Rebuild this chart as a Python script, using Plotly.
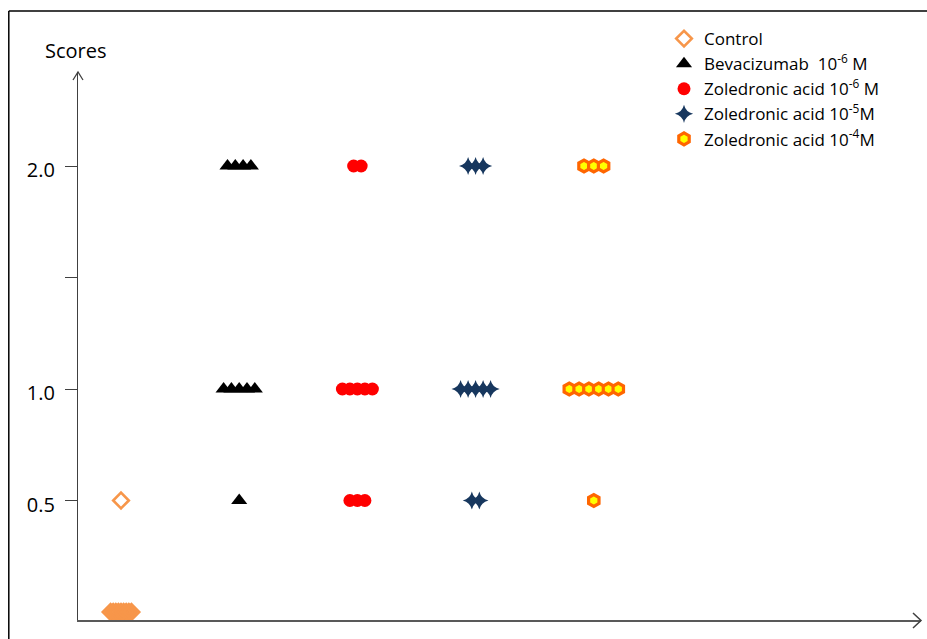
import plotly.graph_objects as go

# ---- data ----
legend_names = ["Control", "Bevacizumab  10<sup>-6</sup> M",
                "Zoledronic acid 10<sup>-6</sup> M",
                "Zoledronic acid 10<sup>-5</sup>M",
                "Zoledronic acid 10<sup>-4</sup>M"]
score_levels = [0.0, 0.5, 1.0, 2.0]
# number of animals at each score level (0, 0.5, 1.0, 2.0)
control_counts = [9, 1, 0, 0]
bevacizumab_counts = [0, 1, 5, 4]
zol6_counts = [0, 3, 5, 2]
zol5_counts = [0, 2, 5, 3]
zol4_counts = [0, 1, 6, 3]
counts = [control_counts, bevacizumab_counts, zol6_counts, zol5_counts, zol4_counts]
y_tickvals = [0.5, 1.0, 1.5, 2.0]
y_ticktext = ["0.5", "1.0", "", "2.0"]

# ---- layout / styles (page pixel geometry) ----
W, H = 927, 639
PL, PR, PT, PB = 78, 921, 72, 620          # plot area in page pixels
L, R, T, B = PL, W - PR, PT, H - PB
PW, PH = PR - PL, PB - PT
PX_PER_GROUP = 118.2
X0 = -(121 - PL) / PX_PER_GROUP
X1 = X0 + PW / PX_PER_GROUP
PX_PER_SCORE = 223.0
Y0 = -(PB - 612) / PX_PER_SCORE
Y1 = Y0 + PH / PX_PER_SCORE

styles = [
    dict(symbol="diamond-open", size=12, color="#F7964A", line=dict(width=2.6, color="#F7964A"), spread=2.6),
    dict(symbol="triangle-up", size=14, color="#000000", line=dict(width=0), spread=7.8),
    dict(symbol="circle", size=13, color="#FF0000", line=dict(width=0), spread=7.5),
    dict(symbol="star-diamond", size=13, color="#17375E", line=dict(width=0), spread=7.5),
    dict(symbol="hexagon", size=12, color="#FFFF00", line=dict(width=3.2, color="#FF6600"), spread=9.8),
]

fig = go.Figure()
for gi, (name, cnts, st) in enumerate(zip(legend_names, counts, styles)):
    xs, ys = [], []
    for score, n in zip(score_levels, cnts):
        for k in range(n):
            off = (k - (n - 1) / 2) * st["spread"] / PX_PER_GROUP
            xs.append(gi + off)
            ys.append(score)
    fig.add_trace(go.Scatter(
        x=xs, y=ys, mode="markers", name=name,
        marker=dict(symbol=st["symbol"], size=st["size"], color=st["color"], line=st["line"]),
        cliponaxis=False,
    ))


def px(x):
    return (x - PL) / PW


def py(y):
    return (PB - y) / PH


shapes = [
    # figure border: left and top edges (the rest is cropped)
    dict(type="line", xref="paper", yref="paper", x0=px(8.8), y0=py(H), x1=px(8.8), y1=py(11),
         line=dict(color="#000000", width=1.5), layer="below"),
    dict(type="line", xref="paper", yref="paper", x0=px(8.8), y0=py(11), x1=px(W), y1=py(11),
         line=dict(color="#000000", width=1.5), layer="below"),
    # y-axis arrow head
    dict(type="path", xref="paper", yref="paper",
         path=f"M {px(73)},{py(80)} L {px(78)},{py(72)} L {px(83)},{py(80)}",
         line=dict(color="#404040", width=1.3)),
    # x-axis arrow head
    dict(type="path", xref="paper", yref="paper",
         path=f"M {px(913)},{py(613)} L {px(921)},{py(620.5)} L {px(913)},{py(628)}",
         line=dict(color="#404040", width=1.5)),
]

fig.update_layout(
    width=W, height=H,
    margin=dict(l=L, r=R, t=T, b=B, pad=0),
    paper_bgcolor="white", plot_bgcolor="white",
    font=dict(family="Open Sans", size=19, color="#000000"),
    showlegend=True,
    legend=dict(x=px(664), y=py(21), xanchor="left", yanchor="top",
                font=dict(size=17), tracegroupgap=0, bgcolor="rgba(0,0,0,0)",
                itemsizing="trace"),
    shapes=shapes,
    annotations=[dict(text="Scores", xref="paper", yref="paper", x=px(76), y=py(50),
                      xanchor="center", yanchor="middle", showarrow=False,
                      font=dict(size=20))],
)
fig.update_xaxes(range=[X0, X1], showline=True, linecolor="#595959", linewidth=2,
                 showgrid=False, zeroline=False, showticklabels=False, ticks="")
fig.update_yaxes(range=[Y0, Y1], showline=True, linecolor="#404040", linewidth=1.3,
                 showgrid=False, zeroline=False, tickvals=y_tickvals, ticktext=y_ticktext,
                 ticks="outside", ticklen=12, tickcolor="#404040", tickwidth=1.3,
                 ticklabelstandoff=6, ticklabelshift=4, tickfont=dict(size=20))

fig.write_html(
    "out.html",
    config={"displayModeBar": False},
    post_script="document.body.style.margin='0';document.body.style.overflow='hidden';",
)
